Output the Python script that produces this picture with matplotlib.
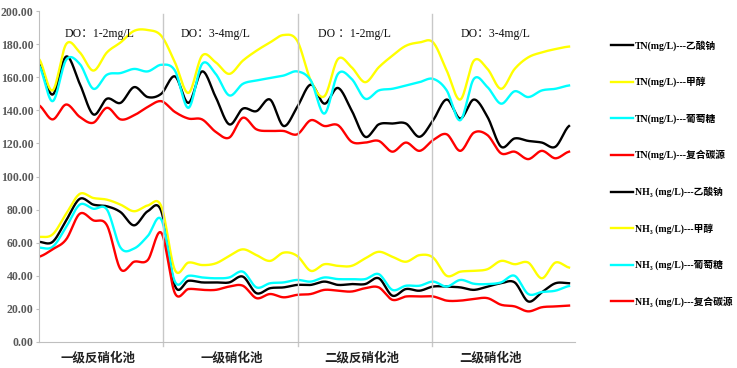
import numpy as np
import matplotlib
matplotlib.use("Agg")
import matplotlib.pyplot as plt
from matplotlib.font_manager import FontProperties

pools = ["一级反硝化池", "一级硝化池", "二级反硝化池", "二级硝化池"]
do_labels = ["DO：1-2mg/L", "DO：3-4mg/L", "DO ：1-2mg/L", "DO：3-4mg/L"]
carbon = ["乙酸钠", "甲醇", "葡萄糖", "复合碳源"]

# TN (mg/L), 40 sampling points
tn_naac = [168, 149.5, 172.5, 156, 137.5, 147, 144.5, 154, 148, 150,
           160.5, 144.5, 163.5, 148, 131.5, 141, 139.5, 146.5, 130.5, 142,
           155.5, 144, 153.5, 140, 124, 131.5, 132, 132, 124, 134,
           146.5, 135, 146.5, 136, 118, 123, 121.5, 120.5, 118, 130.5]
tn_meoh = [171, 152, 180, 175, 164, 175, 181, 188, 188.5, 185,
           169, 150.5, 173, 169, 162, 170, 176, 181, 185.5, 182,
           158, 148.5, 171, 166, 157, 166, 173, 179, 181, 181,
           164, 146.5, 170, 165, 153, 165, 172, 175, 177, 178.5]
tn_gluc = [167, 145.5, 170.5, 168, 153, 161.5, 162.5, 165, 163.5, 167.5,
           164, 141.5, 168, 162, 149, 156, 158, 159.5, 161, 163.5,
           158, 138, 162, 159, 147, 152, 153, 155, 157, 159,
           152, 134, 159, 154, 144, 151.5, 148, 152, 153, 155]
tn_mix = [143, 134.5, 143.5, 136, 132.5, 141.5, 134.5, 137, 142, 145.5,
          139, 135, 134.5, 127, 123.5, 135.5, 128.5, 127.5, 127.5, 125.5,
          134, 130.5, 131, 121, 120.5, 121.5, 115, 120.5, 115.5, 122,
          125.5, 115.5, 126.5, 125, 114, 115, 110.5, 115.5, 111, 115]

# NH3 (mg/L)
nh3_naac = [60.5, 60.5, 73.5, 86.5, 83, 82, 78.5, 70.5, 79, 79,
            34, 37, 36, 36, 36, 39.5, 29.5, 32.5, 33, 34.5,
            34.5, 36.5, 34.5, 35, 35, 38.5, 28, 32, 31, 33.5,
            33.5, 33, 31.5, 33.5, 35.5, 36, 24.5, 30, 35.5, 35.5]
nh3_meoh = [63.5, 65, 77.5, 89.5, 87, 86, 83, 79, 82.5, 82,
            43.5, 48, 46.5, 47.5, 52, 56, 52.5, 49, 54, 52,
            43, 47, 46, 46, 50.5, 54.5, 51.5, 48.5, 52.5, 51,
            40, 42.5, 43, 44, 49, 47, 48, 38.5, 48, 45]
nh3_gluc = [57, 57.5, 69.5, 83, 80.5, 80, 57, 56.5, 64, 74,
            36.5, 40, 39, 38.5, 39, 42.5, 33, 35.5, 36, 37.5,
            36.5, 39, 38, 38, 38, 41, 31.5, 34, 34, 36.5,
            33.5, 37.5, 35.2, 35, 36, 40, 29, 30.2, 31, 33.8]
nh3_mix = [51.5, 56, 62, 77.5, 73.5, 70.5, 44, 48.5, 49.5, 66,
           29.5, 32, 31.5, 31.5, 33.5, 34, 26.5, 29, 27, 28.5,
           29, 31.5, 31, 30.5, 32.5, 33, 25.5, 27.5, 27.5, 27.5,
           25, 25, 26, 26.5, 22.5, 21.5, 18.5, 21, 21.5, 22]

colors = ["#000000", "#FFFF00", "#00FFFF", "#FF0000"]


# excel-like smoothed line (catmull-rom through the points)
def smooth(vals, n=16):
    y = np.asarray(vals, float)
    p = np.concatenate([[y[0]], y, [y[-1]]])
    t = np.linspace(0, 1, n, endpoint=False)
    xs, ys = [], []
    for i in range(len(y) - 1):
        p0, p1, p2, p3 = p[i], p[i + 1], p[i + 2], p[i + 3]
        yy = 0.5 * (2 * p1 + (p2 - p0) * t + (2 * p0 - 5 * p1 + 4 * p2 - p3) * t ** 2
                    + (3 * p1 - p0 - 3 * p2 + p3) * t ** 3)
        xs.append(i + t)
        ys.append(yy)
    xs.append([len(y) - 1])
    ys.append([y[-1]])
    return np.concatenate(xs), np.concatenate(ys)


fig = plt.figure(figsize=(7.37, 3.68), dpi=100)
ax = fig.add_axes([39 / 737, 26 / 368, 536 / 737, 331 / 368])

handles = []
for series, c, name in zip([tn_naac, tn_meoh, tn_gluc, tn_mix], colors, carbon):
    xs, ys = smooth(series)
    h, = ax.plot(xs, ys, color=c, lw=1.7, label="TN(mg/L)---" + name)
    handles.append(h)
for series, c, name in zip([nh3_naac, nh3_meoh, nh3_gluc, nh3_mix], colors, carbon):
    xs, ys = smooth(series)
    h, = ax.plot(xs, ys, color=c, lw=1.7, label="NH₃ (mg/L)---" + name)
    handles.append(h)

ax.set_xlim(0, 39.44)
ax.set_ylim(0, 200)

for d in [9.12, 19.06, 28.92]:
    ax.axvline(d, ymin=-0.012, ymax=0.99, color="#C8C8C8", lw=1, clip_on=False)

for s in ["top", "right"]:
    ax.spines[s].set_visible(False)
for s in ["left", "bottom"]:
    ax.spines[s].set_color("#BFBFBF")

serif_b = FontProperties(family=["Liberation Serif", "DejaVu Serif"], weight="bold", size=8.5)
ax.set_yticks(np.arange(0, 201, 20))
ax.set_yticklabels([f"{v:.2f}" for v in np.arange(0, 201, 20)], fontproperties=serif_b, color="#595959")
ax.tick_params(axis="y", direction="out", length=2, color="#BFBFBF", pad=2)

ax.set_xticks([4.34, 14.2, 23.77, 33.19])
cjk = FontProperties(family=["Noto Sans CJK SC"], weight="bold", size=9)
ax.set_xticklabels(pools, fontproperties=cjk, color="#222222")
ax.tick_params(axis="x", length=0, pad=7)

for xpos, lab in zip([1.9, 10.4, 20.5, 31.0], do_labels):
    ax.text(xpos, 186, lab, ha="left", va="center", fontsize=8.5,
            family=["Liberation Serif", "Noto Sans CJK SC"], color="#111111")

leg_font = FontProperties(family=["Liberation Serif", "Noto Sans CJK SC", "DejaVu Serif"],
                          weight="bold", size=7)
fig.legend(handles=handles, loc="upper left", bbox_to_anchor=(611 / 737, 1 - 40 / 368),
           frameon=False, prop=leg_font, handlelength=2.27, handletextpad=0.2,
           labelspacing=2.68, borderpad=0, borderaxespad=0)

fig.savefig("out.png", dpi=100)
